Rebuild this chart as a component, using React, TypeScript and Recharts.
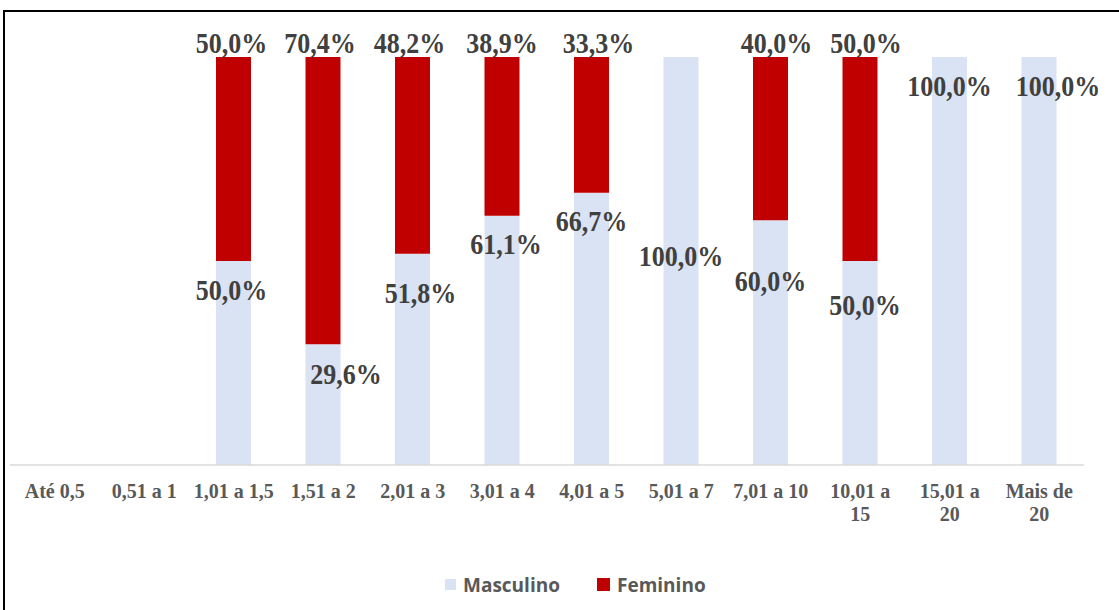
import React from "react";
import { BarChart, Bar, XAxis, YAxis, LabelList, Legend } from "recharts";

const categories = [
  "Até 0,5",
  "0,51 a 1",
  "1,01 a 1,5",
  "1,51 a 2",
  "2,01 a 3",
  "3,01 a 4",
  "4,01 a 5",
  "5,01 a 7",
  "7,01 a 10",
  "10,01 a 15",
  "15,01 a 20",
  "Mais de 20",
];

const tickLabels: string[][] = [
  ["Até 0,5"],
  ["0,51 a 1"],
  ["1,01 a 1,5"],
  ["1,51 a 2"],
  ["2,01 a 3"],
  ["3,01 a 4"],
  ["4,01 a 5"],
  ["5,01 a 7"],
  ["7,01 a 10"],
  ["10,01 a", "15"],
  ["15,01 a", "20"],
  ["Mais de", "20"],
];

const masculino = [0, 0, 50.0, 29.6, 51.8, 61.1, 66.7, 100.0, 60.0, 50.0, 100.0, 100.0];
const feminino = [0, 0, 50.0, 70.4, 48.2, 38.9, 33.3, 0, 40.0, 50.0, 0, 0];

// label nudges (layout only)
const mascLabelDy = [0, 0, 39, 40, 49, 38, 38, 209, 71, 54, 39, 39];
const mascLabelDx = [0, 0, -2, 23, 8, 4, 0, 0, 0, 5, 0, 19];
const femLabelDx = [0, 0, -2, -3, -3, 0, 7, 0, 6, 6, 0, 0];

const data = categories.map((c, i) => ({
  name: c,
  Masculino: masculino[i],
  Feminino: feminino[i],
}));

const MASC_COLOR = "#DAE3F3";
const FEM_COLOR = "#C00000";
const LABEL_FONT = "'Liberation Serif', 'Times New Roman', serif";

const fmt = (v: number) => v.toFixed(1).replace(".", ",") + "%";

const MascLabel = (props: any) => {
  const { x, y, width, value } = props;
  const index = categories.indexOf(value);
  if (index < 0) return null;
  const v = masculino[index];
  if (!v) return null;
  const cx = Number(x) + Number(width) / 2 + mascLabelDx[index];
  const by = Number(y) + mascLabelDy[index];
  return (
    <text
      transform={`translate(${cx},${by}) scale(1,1.12)`}
      textAnchor="middle"
      fontFamily={LABEL_FONT}
      fontWeight="bold"
      fontSize={26}
      fill="#404040"
    >
      {fmt(v)}
    </text>
  );
};

const FemLabel = (props: any) => {
  const { x, y, width, value } = props;
  const index = categories.indexOf(value);
  if (index < 0) return null;
  const v = feminino[index];
  if (!v) return null;
  const cx = Number(x) + Number(width) / 2 + femLabelDx[index];
  const by = Number(y) - 4;
  return (
    <text
      transform={`translate(${cx},${by}) scale(1,1.12)`}
      textAnchor="middle"
      fontFamily={LABEL_FONT}
      fontWeight="bold"
      fontSize={26}
      fill="#404040"
    >
      {fmt(v)}
    </text>
  );
};

const Tick = (props: any) => {
  const { x, y, payload } = props;
  const lines = tickLabels[payload.index] || [payload.value];
  return (
    <g>
      {lines.map((l: string, i: number) => (
        <text
          key={i}
          x={x}
          y={Number(y) + 25 + i * 23}
          textAnchor="middle"
          fontFamily={LABEL_FONT}
          fontWeight="bold"
          fontSize={20}
          fill="#595959"
        >
          {l}
        </text>
      ))}
    </g>
  );
};

const LegendContent = () => (
  <div style={{ position: "relative", width: 1119, height: 30 }}>
    <div style={{ position: "absolute", left: 445, top: 7, width: 11, height: 11, background: MASC_COLOR }} />
    <div
      style={{
        position: "absolute",
        left: 463,
        top: 0,
        fontFamily: "'Open Sans', sans-serif",
        fontWeight: 700,
        fontSize: 19,
        lineHeight: "26px",
        color: "#595959",
      }}
    >
      Masculino
    </div>
    <div style={{ position: "absolute", left: 597, top: 6, width: 13, height: 13, background: FEM_COLOR }} />
    <div
      style={{
        position: "absolute",
        left: 617,
        top: 0,
        fontFamily: "'Open Sans', sans-serif",
        fontWeight: 700,
        fontSize: 19,
        lineHeight: "26px",
        color: "#595959",
      }}
    >
      Feminino
    </div>
  </div>
);

export default function App() {
  return (
    <div style={{ position: "absolute", left: 0, top: 0, width: 1119, height: 610, overflow: "hidden", background: "#fff" }}>
      <div
        style={{
          position: "absolute",
          left: 3,
          top: 10,
          width: 1140,
          height: 640,
          border: "2px solid #000",
          boxSizing: "border-box",
        }}
      />
      <div style={{ position: "absolute", left: 0, top: 0 }}>
        <BarChart
          width={1119}
          height={610}
          data={data}
          margin={{ top: 57, right: 35, bottom: 55, left: 10 }}
          barSize={35}
        >
          <XAxis
            dataKey="name"
            axisLine={{ stroke: "#D9D9D9", strokeWidth: 1.5 }}
            tickLine={false}
            interval={0}
            height={60}
            tick={<Tick />}
          />
          <YAxis hide domain={[0, 100]} />
          <Legend
            verticalAlign="bottom"
            wrapperStyle={{ left: 0, bottom: 8, width: 1119 }}
            content={<LegendContent />}
          />
          <Bar dataKey="Masculino" stackId="a" fill={MASC_COLOR} isAnimationActive={false}>
            <LabelList dataKey="name" content={<MascLabel />} />
          </Bar>
          <Bar dataKey="Feminino" stackId="a" fill={FEM_COLOR} isAnimationActive={false}>
            <LabelList dataKey="name" content={<FemLabel />} />
          </Bar>
        </BarChart>
      </div>
    </div>
  );
}
